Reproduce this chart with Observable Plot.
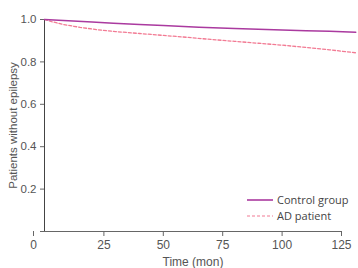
<!DOCTYPE html>
<html>
<head>
<meta charset="utf-8">
<script src="https://cdn.jsdelivr.net/npm/d3@7"></script>
<script src="https://cdn.jsdelivr.net/npm/@observablehq/plot@0.6"></script>
<style>
  html, body { margin: 0; padding: 0; background: #fff; }
  #wrap { position: relative; width: 358px; height: 268px; }
  #legend { position: absolute; left: 247px; top: 192px; font-family: "Open Sans", "Noto Sans", sans-serif; font-size: 11px; color: #444; line-height: 16px; }
  #legend div { display: flex; align-items: center; height: 16px; }
  #legend svg { margin-right: 4px; }
</style>
</head>
<body>
<div id="wrap"></div>
<script>
const seriesNames = ["Control group", "AD patient"];
const seriesColors = ["#aa3a9f", "#f27a93"];
const controlTime = [0, 10, 20, 29, 40, 50, 65, 80, 90, 100, 110, 120, 131];
const controlSurv = [1.0, 0.994, 0.988, 0.982, 0.977, 0.972, 0.964, 0.958, 0.954, 0.950, 0.947, 0.944, 0.940];
const adTime = [0, 3, 8, 15, 22, 30, 40, 50, 60, 70, 80, 90, 100, 110, 120, 131];
const adSurv = [1.0, 0.99, 0.976, 0.963, 0.952, 0.943, 0.934, 0.925, 0.916, 0.906, 0.897, 0.888, 0.879, 0.868, 0.857, 0.843];
const xTicks = [25, 50, 75, 100, 125];
const yTicks = [0, 0.2, 0.4, 0.6, 0.8, 1.0];

const control = controlTime.map((t, i) => ({t, s: controlSurv[i]}));
const ad = adTime.map((t, i) => ({t, s: adSurv[i]}));

const axisColor = "#666";
const plot = Plot.plot({
  width: 358,
  height: 268,
  marginLeft: 44,
  marginRight: 17,
  marginTop: 19,
  marginBottom: 37,
  style: {fontFamily: "'Liberation Sans', Arial, sans-serif", fontSize: "12px", color: "#555", background: "#fff", overflow: "visible"},
  x: {domain: [0, 125], clamp: false},
  y: {domain: [0, 1]},
  marks: [
    Plot.ruleY([0], {stroke: axisColor, strokeWidth: 1, x1: 0, x2: 125}),
    Plot.ruleX([0], {stroke: "#444", y1: 0, y2: 1}),
    Plot.axisY({ticks: yTicks, tickFormat: d => d === 0 ? "" : d.toFixed(1), tickSize: 4, tickPadding: 4, stroke: axisColor, fontSize: 11.5,
      label: "Patients without epilepsy", labelAnchor: "center", labelArrow: false, labelOffset: 36}),
    Plot.axisX({ticks: xTicks, tickSize: 5, tickPadding: 4, stroke: axisColor,
      label: "Time (mon)", labelAnchor: "center", labelArrow: false, labelOffset: 34}),
    Plot.axisX({ticks: [0], tickSize: 5, tickPadding: 4, dx: -11, stroke: axisColor, label: null}),
    Plot.line(ad, {x: "t", y: "s", stroke: seriesColors[1], strokeWidth: 1.3, strokeDasharray: "3,2", clip: false}),
    Plot.line(control, {x: "t", y: "s", stroke: seriesColors[0], strokeWidth: 1.5, clip: false})
  ]
});
const wrap = document.getElementById("wrap");
wrap.appendChild(plot);

const legend = document.createElement("div");
legend.id = "legend";
seriesNames.forEach((name, i) => {
  const row = document.createElement("div");
  const dash = i === 1 ? 'stroke-dasharray="3,2"' : '';
  row.innerHTML = `<svg width="26" height="4"><line x1="0" x2="26" y1="2" y2="2" stroke="${seriesColors[i]}" stroke-width="${i === 1 ? 1.2 : 1.6}" ${dash}/></svg><span>${name}</span>`;
  legend.appendChild(row);
});
wrap.appendChild(legend);
</script>
</body>
</html>
